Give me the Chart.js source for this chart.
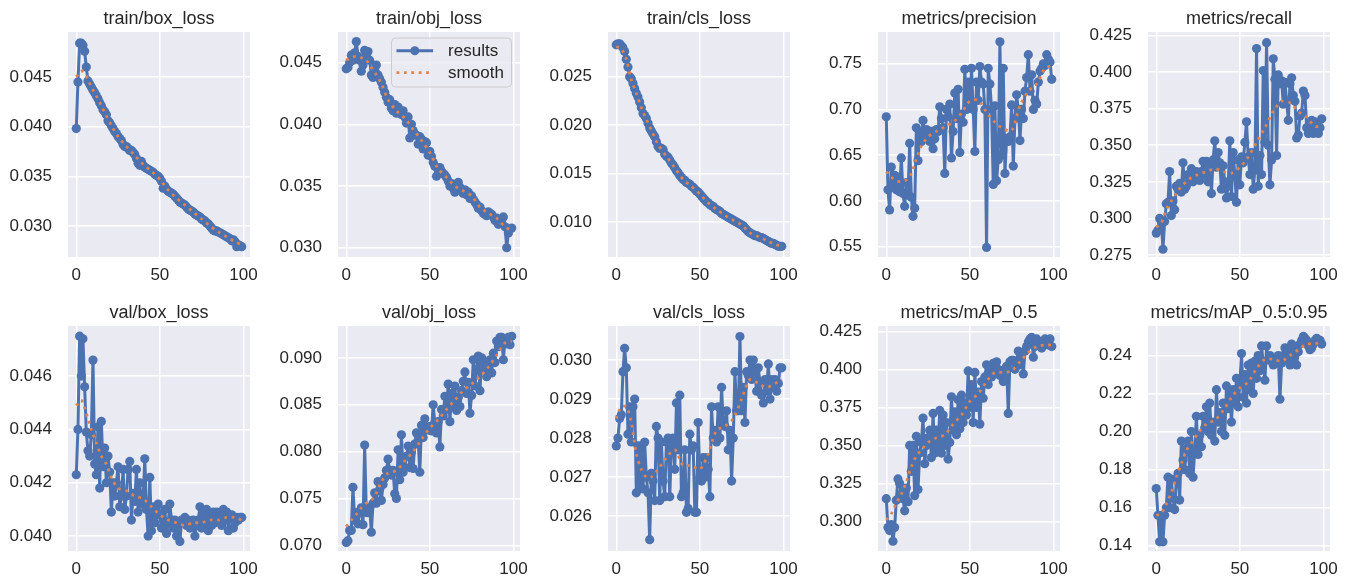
<!DOCTYPE html>
<html><head><meta charset="utf-8">
<script src="https://cdn.jsdelivr.net/npm/chart.js@4.4.1/dist/chart.umd.min.js"></script>
<style>
html,body{margin:0;padding:0;background:#fff;width:1350px;height:585px;overflow:hidden}
.cell{position:absolute;width:270px;height:292px}
</style></head><body>
<script>
// ---------- DATA ----------
const epochs = [0,1,2,3,4,5,6,7,8,9,10,11,12,13,14,15,16,17,18,19,20,21,22,23,24,25,26,27,28,29,30,31,32,33,34,35,36,37,38,39,40,41,42,43,44,45,46,47,48,49,50,51,52,53,54,55,56,57,58,59,60,61,62,63,64,65,66,67,68,69,70,71,72,73,74,75,76,77,78,79,80,81,82,83,84,85,86,87,88,89,90,91,92,93,94,95,96,97,98,99];
const smoothEpochs = [0,3,6,9,12,15,18,21,25,30,35,40,45,50,55,60,65,70,75,80,85,90,95,99];

const titles = ['train/box_loss','train/obj_loss','train/cls_loss','metrics/precision','metrics/recall',
                'val/box_loss','val/obj_loss','val/cls_loss','metrics/mAP_0.5','metrics/mAP_0.5:0.95'];
const legendLabels = ['results','smooth'];
const xTickLabels = ['0','50','100'];

const trainBox = [
0.0398,0.0445,0.0484,0.0484,0.0482,0.0476,0.0460,0.0446,0.0443,0.0440,
0.0437,0.0434,0.0431,0.0428,0.0424,0.0421,0.0417,0.0415,0.0412,0.0406,
0.0404,0.0401,0.0398,0.0395,0.0393,0.0390,0.0388,0.0386,0.0382,0.0380,
0.0380,0.0378,0.0376,0.0376,0.0374,0.0372,0.0368,0.0363,0.0361,0.0365,
0.0361,0.0359,0.0358,0.0357,0.0356,0.0355,0.0354,0.0352,0.0351,0.0350,
0.0348,0.0345,0.0338,0.0340,0.0337,0.0335,0.0334,0.0333,0.0332,0.0330,
0.0328,0.0326,0.0324,0.0323,0.0322,0.0321,0.0319,0.0317,0.0316,0.0315,
0.0314,0.0312,0.0311,0.0310,0.0309,0.0307,0.0306,0.0305,0.0303,0.0302,
0.0300,0.0298,0.0296,0.0295,0.0295,0.0294,0.0293,0.0292,0.0291,0.0290,
0.0289,0.0288,0.0287,0.0285,0.0286,0.0284,0.0279,0.0281,0.0280,0.0279];
const trainBoxSmooth = [0.0450,0.0456,0.0451,0.0440,0.0431,0.0421,0.0411,0.0401,0.0390,0.0380,0.0371,0.0362,0.0355,0.0347,0.0336,0.0328,0.0321,0.0314,0.0307,0.0300,0.0294,0.0289,0.0284,0.0281];

const trainObj = [
0.0445,0.0446,0.0450,0.0456,0.0452,0.0458,0.0467,0.0455,0.0452,0.0443,
0.0448,0.0460,0.0456,0.0459,0.0452,0.0440,0.0438,0.0444,0.0448,0.0440,
0.0437,0.0434,0.0430,0.0426,0.0422,0.0418,0.0420,0.0413,0.0411,0.0416,
0.0409,0.0414,0.0410,0.0408,0.0411,0.0406,0.0401,0.0406,0.0389,0.0400,
0.0395,0.0392,0.0391,0.0384,0.0390,0.0388,0.0380,0.0386,0.0385,0.0375,
0.0378,0.0374,0.0369,0.0366,0.0358,0.0363,0.0365,0.0362,0.0360,0.0359,
0.0357,0.0354,0.0350,0.0352,0.0348,0.0345,0.0351,0.0353,0.0349,0.0346,
0.0344,0.0347,0.0343,0.0345,0.0340,0.0342,0.0339,0.0337,0.0335,0.0332,
0.0333,0.0330,0.0328,0.0327,0.0326,0.0329,0.0328,0.0327,0.0325,0.0322,
0.0324,0.0319,0.0321,0.0323,0.0325,0.0317,0.0300,0.0312,0.0315,0.0316];
const trainObjSmooth = [0.0452,0.0454,0.0455,0.0454,0.0452,0.0446,0.0440,0.0433,0.0420,0.0411,0.0405,0.0396,0.0387,0.0377,0.0364,0.0357,0.0350,0.0346,0.0342,0.0333,0.0328,0.0324,0.0317,0.0314];

const trainCls = [
0.0283,0.0284,0.0284,0.0282,0.0280,0.0276,0.0268,0.0260,0.0250,0.0248,
0.0243,0.0238,0.0233,0.0229,0.0224,0.0218,0.0212,0.0210,0.0207,0.0202,
0.0197,0.0194,0.0191,0.0188,0.0183,0.0178,0.0176,0.0176,0.0175,0.0170,
0.0168,0.0167,0.0164,0.0161,0.0159,0.0156,0.0153,0.0151,0.0148,0.0146,
0.0144,0.0143,0.0141,0.0140,0.0139,0.0137,0.0136,0.0134,0.0132,0.0131,
0.0129,0.0127,0.0125,0.0123,0.0121,0.0120,0.0118,0.0117,0.0116,0.0114,
0.0113,0.0112,0.0111,0.0109,0.0108,0.0107,0.0106,0.0105,0.0104,0.0103,
0.0102,0.0101,0.0100,0.0099,0.0098,0.0097,0.0096,0.0094,0.0092,0.0090,
0.0089,0.0088,0.0087,0.0086,0.0086,0.0085,0.0084,0.0084,0.0083,0.0082,
0.0081,0.0080,0.0079,0.0078,0.0078,0.0077,0.0076,0.0075,0.0075,0.0075];
const trainClsSmooth = [0.0281,0.0279,0.0268,0.0247,0.0233,0.0218,0.0206,0.0195,0.0180,0.0168,0.0156,0.0144,0.0137,0.0129,0.0120,0.0113,0.0107,0.0102,0.0097,0.0089,0.0085,0.0081,0.0077,0.0075];

const precision = [
0.692,0.612,0.590,0.637,0.615,0.628,0.612,0.626,0.610,0.647,
0.608,0.594,0.620,0.606,0.663,0.604,0.583,0.592,0.680,0.644,
0.675,0.665,0.688,0.670,0.678,0.672,0.665,0.676,0.657,0.668,
0.678,0.676,0.703,0.690,0.680,0.630,0.700,0.692,0.706,0.647,
0.676,0.718,0.690,0.722,0.653,0.695,0.686,0.744,0.700,0.730,
0.705,0.745,0.700,0.654,0.730,0.710,0.747,0.730,0.728,0.700,
0.549,0.745,0.728,0.700,0.618,0.704,0.622,0.645,0.774,0.650,
0.745,0.630,0.668,0.665,0.670,0.705,0.638,0.690,0.716,0.700,
0.666,0.700,0.690,0.720,0.735,0.760,0.720,0.738,0.700,0.710,
0.706,0.730,0.742,0.745,0.750,0.748,0.760,0.755,0.752,0.733];
const precisionSmooth = [0.632,0.626,0.622,0.621,0.623,0.630,0.646,0.660,0.670,0.676,0.681,0.686,0.696,0.709,0.710,0.697,0.686,0.679,0.677,0.704,0.720,0.728,0.745,0.748];

const recall = [
0.290,0.292,0.300,0.298,0.279,0.298,0.310,0.311,0.332,0.302,
0.312,0.306,0.322,0.320,0.324,0.318,0.338,0.320,0.322,0.330,
0.328,0.334,0.325,0.330,0.332,0.328,0.326,0.332,0.339,0.330,
0.339,0.325,0.338,0.317,0.340,0.353,0.335,0.345,0.338,0.320,
0.336,0.325,0.314,0.322,0.353,0.315,0.345,0.330,0.311,0.340,
0.323,0.342,0.338,0.352,0.366,0.342,0.330,0.345,0.320,0.333,
0.416,0.322,0.343,0.330,0.401,0.352,0.420,0.350,0.323,0.340,
0.409,0.395,0.343,0.398,0.392,0.394,0.378,0.393,0.380,0.367,
0.392,0.396,0.384,0.380,0.355,0.357,0.370,0.372,0.387,0.384,
0.362,0.358,0.360,0.367,0.358,0.366,0.360,0.358,0.362,0.368];
const recallSmooth = [0.294,0.297,0.306,0.312,0.317,0.322,0.325,0.328,0.330,0.332,0.334,0.332,0.331,0.335,0.342,0.352,0.362,0.373,0.380,0.379,0.373,0.369,0.363,0.363];

const valBox = [
0.0423,0.0440,0.0475,0.0460,0.0474,0.0456,0.0439,0.0432,0.0430,0.0438,
0.0466,0.0427,0.0423,0.0441,0.0418,0.0443,0.0426,0.0433,0.0420,0.0430,
0.0424,0.0409,0.0420,0.0415,0.0420,0.0426,0.0411,0.0415,0.0425,0.0410,
0.0415,0.0425,0.0428,0.0406,0.0416,0.0413,0.0425,0.0409,0.0420,0.0412,
0.0414,0.0429,0.0410,0.0400,0.0422,0.0402,0.0411,0.0405,0.0408,0.0412,
0.0408,0.0403,0.0406,0.0410,0.0401,0.0405,0.0412,0.0406,0.0403,0.0406,
0.0400,0.0405,0.0398,0.0406,0.0405,0.0407,0.0404,0.0406,0.0403,0.0405,
0.0406,0.0400,0.0404,0.0406,0.0411,0.0403,0.0409,0.0404,0.0410,0.0402,
0.0408,0.0404,0.0409,0.0405,0.0409,0.0406,0.0408,0.0404,0.0410,0.0406,
0.0409,0.0402,0.0407,0.0408,0.0403,0.0405,0.0407,0.0406,0.0407,0.0407];
const valBoxSmooth = [0.0449,0.0451,0.0446,0.0440,0.0435,0.0430,0.0427,0.0422,0.0418,0.0417,0.0415,0.0414,0.0411,0.0408,0.0406,0.0405,0.0404,0.0405,0.0405,0.0406,0.0406,0.0407,0.0407,0.0406];

const valObj = [
0.0703,0.0705,0.0716,0.0716,0.0762,0.0727,0.0735,0.0723,0.0735,0.0740,
0.0722,0.0807,0.0735,0.0735,0.0740,0.0714,0.0745,0.0756,0.0745,0.0768,
0.0760,0.0748,0.0765,0.0772,0.0780,0.0792,0.0780,0.0775,0.0780,0.0755,
0.0750,0.0802,0.0770,0.0818,0.0778,0.0783,0.0795,0.0806,0.0783,0.0800,
0.0782,0.0808,0.0820,0.0812,0.0778,0.0828,0.0815,0.0835,0.0823,0.0825,
0.0827,0.0822,0.0850,0.0830,0.0820,0.0832,0.0805,0.0845,0.0838,0.0859,
0.0845,0.0872,0.0832,0.0862,0.0848,0.0870,0.0844,0.0858,0.0848,0.0865,
0.0875,0.0885,0.0862,0.0874,0.0841,0.0860,0.0898,0.0870,0.0888,0.0902,
0.0865,0.0900,0.0888,0.0895,0.0880,0.0890,0.0898,0.0884,0.0905,0.0895,
0.0918,0.0912,0.0922,0.0922,0.0898,0.0920,0.0915,0.0922,0.0914,0.0923];
const valObjSmooth = [0.0720,0.0727,0.0733,0.0740,0.0745,0.0748,0.0756,0.0768,0.0777,0.0780,0.0790,0.0800,0.0813,0.0825,0.0834,0.0845,0.0855,0.0865,0.0872,0.0880,0.0890,0.0903,0.0916,0.0918];

const valCls = [
0.0278,0.0280,0.0285,0.0286,0.0297,0.0303,0.0298,0.0281,0.0288,0.0279,
0.0288,0.0290,0.0266,0.0278,0.0268,0.0278,0.0267,0.0279,0.0270,0.0266,
0.0254,0.0271,0.0269,0.0264,0.0283,0.0280,0.0264,0.0279,0.0269,0.0265,
0.0279,0.0280,0.0265,0.0278,0.0280,0.0272,0.0289,0.0277,0.0291,0.0265,
0.0266,0.0277,0.0261,0.0262,0.0281,0.0277,0.0278,0.0261,0.0261,0.0284,
0.0270,0.0269,0.0275,0.0270,0.0275,0.0272,0.0265,0.0288,0.0280,0.0282,
0.0279,0.0288,0.0280,0.0293,0.0284,0.0283,0.0287,0.0277,0.0282,0.0269,
0.0280,0.0297,0.0287,0.0287,0.0306,0.0287,0.0293,0.0284,0.0297,0.0296,
0.0300,0.0295,0.0300,0.0296,0.0292,0.0298,0.0294,0.0291,0.0289,0.0295,
0.0292,0.0299,0.0290,0.0295,0.0293,0.0295,0.0292,0.0294,0.0298,0.0298];
const valClsSmooth = [0.0285,0.0288,0.0288,0.0284,0.0276,0.0272,0.0270,0.0270,0.0272,0.0275,0.0277,0.0273,0.0273,0.0272,0.0276,0.0282,0.0283,0.0285,0.0290,0.0295,0.0294,0.0293,0.0294,0.0295];

const map50 = [
0.315,0.296,0.294,0.298,0.287,0.296,0.314,0.328,0.325,0.318,
0.315,0.307,0.322,0.313,0.350,0.333,0.350,0.317,0.356,0.321,
0.345,0.352,0.368,0.338,0.350,0.355,0.360,0.342,0.371,0.345,
0.360,0.348,0.373,0.345,0.370,0.350,0.365,0.341,0.352,0.382,
0.360,0.372,0.357,0.380,0.361,0.383,0.365,0.378,0.370,0.399,
0.375,0.390,0.365,0.398,0.375,0.385,0.364,0.392,0.381,0.395,
0.403,0.390,0.401,0.395,0.404,0.398,0.405,0.400,0.396,0.398,
0.392,0.400,0.402,0.371,0.405,0.406,0.406,0.400,0.405,0.412,
0.403,0.410,0.397,0.412,0.415,0.418,0.420,0.421,0.408,0.415,
0.420,0.418,0.416,0.414,0.417,0.420,0.418,0.416,0.420,0.415];
const map50Smooth = [0.301,0.305,0.312,0.318,0.326,0.336,0.343,0.347,0.352,0.355,0.357,0.364,0.370,0.379,0.384,0.392,0.398,0.398,0.399,0.405,0.411,0.415,0.416,0.416];

const map5095 = [
0.170,0.156,0.142,0.156,0.142,0.156,0.160,0.176,0.160,0.175,
0.165,0.159,0.175,0.178,0.164,0.195,0.185,0.180,0.191,0.195,
0.178,0.200,0.176,0.190,0.208,0.188,0.198,0.192,0.208,0.202,
0.213,0.200,0.215,0.198,0.205,0.195,0.222,0.205,0.210,0.200,
0.215,0.198,0.224,0.212,0.220,0.205,0.222,0.215,0.228,0.213,
0.225,0.241,0.218,0.230,0.215,0.235,0.222,0.236,0.220,0.237,
0.228,0.240,0.232,0.245,0.236,0.227,0.245,0.238,0.240,0.237,
0.235,0.238,0.236,0.240,0.217,0.236,0.240,0.244,0.238,0.243,
0.235,0.246,0.237,0.243,0.235,0.242,0.246,0.248,0.250,0.249,
0.248,0.245,0.243,0.244,0.246,0.248,0.249,0.248,0.248,0.246];
const map5095Smooth = [0.156,0.157,0.162,0.168,0.176,0.183,0.190,0.194,0.199,0.204,0.206,0.211,0.218,0.223,0.226,0.233,0.238,0.238,0.237,0.240,0.243,0.246,0.246,0.248];

const yTickLabels = [
  ['0.030','0.035','0.040','0.045'],
  ['0.030','0.035','0.040','0.045'],
  ['0.010','0.015','0.020','0.025'],
  ['0.55','0.60','0.65','0.70','0.75'],
  ['0.275','0.300','0.325','0.350','0.375','0.400','0.425'],
  ['0.040','0.042','0.044','0.046'],
  ['0.070','0.075','0.080','0.085','0.090'],
  ['0.026','0.027','0.028','0.029','0.030'],
  ['0.300','0.325','0.350','0.375','0.400','0.425'],
  ['0.14','0.16','0.18','0.20','0.22','0.24']
];
const resultSeries = [trainBox,trainObj,trainCls,precision,recall,valBox,valObj,valCls,map50,map5095];
const smoothSeries = [trainBoxSmooth,trainObjSmooth,trainClsSmooth,precisionSmooth,recallSmooth,valBoxSmooth,valObjSmooth,valClsSmooth,map50Smooth,map5095Smooth];

// axis limits (scale config)
const yLimits = [
  [0.02687,0.04953],[0.02925,0.04748],[0.00640,0.02962],[0.5385,0.7848],[0.2737,0.4273],
  [0.03944,0.04788],[0.0694,0.0934],[0.02511,0.03087],[0.2806,0.4285],[0.1372,0.2555]
];
const xLimits = [-4.95, 103.95];

// ---------- STYLE ----------
const FONT = "'Liberation Sans', Arial, Helvetica, sans-serif";
const TEXT = '#262626';
const BLUE = '#4C72B0';
const ORANGE = '#DD8452';

const bgPlugin = {
  id: 'axbg',
  beforeDraw(chart) {
    const {ctx, chartArea: a} = chart;
    ctx.save();
    ctx.fillStyle = '#EAEAF2';
    ctx.fillRect(a.left, a.top, a.right - a.left, a.bottom - a.top);
    ctx.restore();
  }
};
const titlePlugin = {
  id: 'ptitle',
  afterDraw(chart, args, opts) {
    const {ctx, chartArea: a} = chart;
    ctx.save();
    ctx.font = '18px ' + FONT;
    ctx.fillStyle = TEXT;
    ctx.textAlign = 'center';
    ctx.textBaseline = 'alphabetic';
    ctx.fillText(opts.text, (a.left + a.right) / 2, a.top - 8.5);
    ctx.restore();
  }
};
function rrect(ctx, x, y, w, h, r) {
  ctx.beginPath();
  ctx.moveTo(x + r, y);
  ctx.arcTo(x + w, y, x + w, y + h, r);
  ctx.arcTo(x + w, y + h, x, y + h, r);
  ctx.arcTo(x, y + h, x, y, r);
  ctx.arcTo(x, y, x + w, y, r);
  ctx.closePath();
}
const legendPlugin = {
  id: 'plegend',
  afterDraw(chart, args, opts) {
    if (!opts.show) return;
    const {ctx, chartArea: a} = chart;
    const w = 120, h = 49;
    const x = a.right - 8.5 - w, y = a.top + 6;
    ctx.save();
    rrect(ctx, x, y, w, h, 4);
    ctx.fillStyle = 'rgba(234,234,242,0.8)';
    ctx.fill();
    ctx.strokeStyle = '#CCCCCC';
    ctx.lineWidth = 1;
    ctx.stroke();
    const y1 = y + 12.7, y2 = y + 34.7;
    ctx.strokeStyle = BLUE; ctx.lineWidth = 3; ctx.lineCap = 'butt';
    ctx.beginPath(); ctx.moveTo(x + 5, y1); ctx.lineTo(x + 41.6, y1); ctx.stroke();
    ctx.fillStyle = BLUE;
    ctx.beginPath(); ctx.arc(x + 23.3, y1, 4.5, 0, Math.PI * 2); ctx.fill();
    ctx.strokeStyle = ORANGE; ctx.lineWidth = 2.8; ctx.setLineDash([2.8, 4.6]);
    ctx.beginPath(); ctx.moveTo(x + 5, y2); ctx.lineTo(x + 41.6, y2); ctx.stroke();
    ctx.setLineDash([]);
    ctx.fillStyle = TEXT;
    ctx.font = '17px ' + FONT;
    ctx.textAlign = 'left'; ctx.textBaseline = 'middle';
    ctx.fillText(opts.labels[0], x + 56.6, y1 + 1);
    ctx.fillText(opts.labels[1], x + 56.6, y2 + 1);
    ctx.restore();
  }
};

const tickFont = {family: FONT, size: 17};

for (let i = 0; i < 10; i++) {
  const col = i % 5, row = Math.floor(i / 5);
  const cell = document.createElement('div');
  cell.className = 'cell';
  cell.style.left = (col * 270) + 'px';
  cell.style.top = (row * 294) + 'px';
  const cv = document.createElement('canvas');
  cell.appendChild(cv);
  document.body.appendChild(cell);

  const vals = resultSeries[i];
  const sm = smoothSeries[i];
  const yl = yTickLabels[i];

  new Chart(cv, {
    type: 'line',
    data: {
      datasets: [
        {
          label: legendLabels[1],
          data: smoothEpochs.map((e, k) => ({x: e, y: sm[k]})),
          borderColor: ORANGE, borderWidth: 2.8, borderDash: [2.8, 4.6],
          borderCapStyle: 'butt', pointRadius: 0, tension: 0.3, fill: false, order: 0
        },
        {
          label: legendLabels[0],
          data: epochs.map((e, k) => ({x: e, y: vals[k]})),
          borderColor: BLUE, backgroundColor: BLUE, borderWidth: 3,
          borderJoinStyle: 'round', pointRadius: 4.6, pointBorderWidth: 0,
          pointBackgroundColor: BLUE, tension: 0, fill: false, order: 1
        }
      ]
    },
    options: {
      responsive: true, maintainAspectRatio: false, animation: false,
      events: [],
      layout: {padding: {top: 32, right: 20, left: 0, bottom: 0}},
      plugins: {
        legend: {display: false}, tooltip: {enabled: false}, title: {display: false},
        ptitle: {text: titles[i]},
        plegend: {show: i === 1, labels: legendLabels}
      },
      scales: {
        x: {
          type: 'linear', min: xLimits[0], max: xLimits[1], bounds: 'data',
          grid: {color: '#FFFFFF', lineWidth: 1.5, drawTicks: false},
          border: {display: false},
          ticks: {padding: 8, font: tickFont, color: TEXT, autoSkip: false, maxRotation: 0,
                  callback: (v, idx) => xTickLabels[idx]},
          afterBuildTicks: s => { s.ticks = xTickLabels.map(t => ({value: parseFloat(t)})); },
          afterFit: s => { s.height = 35; }
        },
        y: {
          type: 'linear', min: yLimits[i][0], max: yLimits[i][1], bounds: 'data',
          grid: {color: '#FFFFFF', lineWidth: 1.5, drawTicks: false},
          border: {display: false},
          ticks: {padding: 16, font: tickFont, color: TEXT, autoSkip: false,
                  callback: (v, idx) => yl[idx]},
          afterBuildTicks: s => { s.ticks = yl.map(t => ({value: parseFloat(t)})); },
          afterFit: s => { s.width = 68; }
        }
      }
    },
    plugins: [bgPlugin, titlePlugin, legendPlugin]
  });
}
</script>
</body></html>
